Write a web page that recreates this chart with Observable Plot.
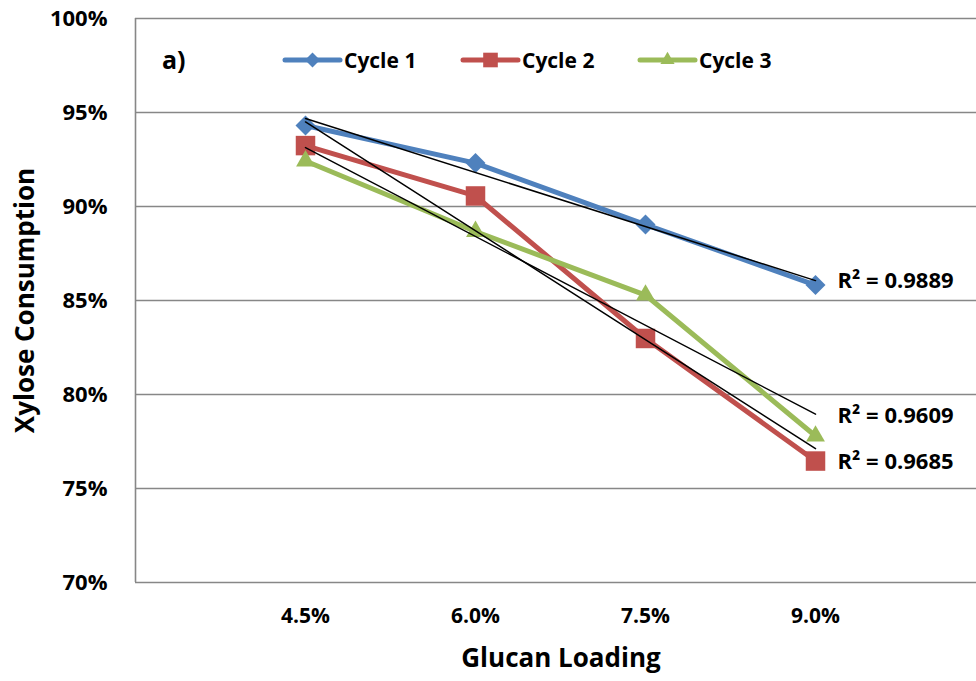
<!DOCTYPE html>
<html>
<head>
<meta charset="utf-8">
<script src="https://cdn.jsdelivr.net/npm/d3@7"></script>
<script src="https://cdn.jsdelivr.net/npm/@observablehq/plot@0.6"></script>
<style>
  html, body { margin: 0; padding: 0; background: #fff; }
  #wrap { position: relative; width: 976px; height: 681px; font-family: 'Open Sans', sans-serif; }
  #legend { position: absolute; left: 0; top: 0; pointer-events: none; }
</style>
</head>
<body>
<div id="wrap"></div>
<script>
// ---- data ----
const categories = ["4.5%", "6.0%", "7.5%", "9.0%"];
const seriesNames = ["Cycle 1", "Cycle 2", "Cycle 3"];
const cycle1 = [94.31, 92.31, 89.04, 85.82];
const cycle2 = [93.24, 90.56, 82.98, 76.46];
const cycle3 = [92.42, 88.67, 85.29, 77.79];
const rSquared = ["R² = 0.9889", "R² = 0.9685", "R² = 0.9609"];
const yTicks = [70, 75, 80, 85, 90, 95, 100];
const panelLabel = "a)";
const xTitle = "Glucan Loading";
const yTitle = "Xylose Consumption";

// ---- styling ----
const colors = {"Cycle 1": "#4F81BD", "Cycle 2": "#C0504D", "Cycle 3": "#9BBB59"};
const symbols = {"Cycle 1": "diamond2", "Cycle 2": "square", "Cycle 3": "triangle"};
const radii = {"Cycle 1": 9, "Cycle 2": 11, "Cycle 3": 7};
const labelDy = {"Cycle 1": -4, "Cycle 2": 1, "Cycle 3": -20};
const font = "'Open Sans', sans-serif";
const grid = "#878787";

const values = [cycle1, cycle2, cycle3];
const rows = [];
seriesNames.forEach((s, si) => values[si].forEach((v, i) => rows.push({series: s, x: i + 1, y: v})));
const lastRows = seriesNames.map((s, si) => ({series: s, x: categories.length, y: values[si][categories.length - 1], label: rSquared[si]}));

const marks = [
  Plot.ruleY(yTicks.slice(1), {stroke: grid, strokeWidth: 1.4}),
  Plot.ruleY([70], {stroke: grid, strokeWidth: 1.6}),
  Plot.ruleX([0], {stroke: grid, strokeWidth: 1.6}),
  Plot.axisY({ticks: yTicks, tickFormat: d => d + "%", tickSize: 0, tickPadding: 28, fontSize: 22, fontWeight: "bold", label: null}),
  Plot.axisX({ticks: [1, 2, 3, 4], tickFormat: i => categories[i - 1], tickSize: 0, tickPadding: 26, fontSize: 21, fontWeight: "bold", label: null})
];
for (const s of seriesNames) {
  const d = rows.filter(r => r.series === s);
  marks.push(Plot.line(d, {x: "x", y: "y", stroke: colors[s], strokeWidth: 5, strokeLinejoin: "round", strokeLinecap: "round"}));
  marks.push(Plot.dot(d, {x: "x", y: "y", symbol: symbols[s], r: radii[s], fill: colors[s], stroke: "none"}));
}
marks.push(Plot.linearRegressionY(rows, {x: "x", y: "y", z: "series", ci: 0, stroke: "black", strokeWidth: 1.5}));
for (const r of lastRows) {
  marks.push(Plot.text([r], {x: "x", y: "y", text: "label", dx: 22, dy: labelDy[r.series], textAnchor: "start", fontSize: 22, fontWeight: "bold", fill: "black"}));
}
marks.push(Plot.text([yTitle], {frameAnchor: "left", textAnchor: "middle", lineAnchor: "middle", dx: -110, rotate: -90, fontSize: 26, fontWeight: "bold", fill: "black"}));
marks.push(Plot.text([xTitle], {frameAnchor: "bottom", dx: 5, dy: 84, fontSize: 26, fontWeight: "bold", fill: "black"}));

const chart = Plot.plot({
  width: 976,
  height: 681,
  marginLeft: 135,
  marginTop: 18,
  marginBottom: 99,
  marginRight: 0,
  style: {fontFamily: font, color: "black", background: "white", overflow: "visible"},
  x: {type: "linear", domain: [0, 4.947]},
  y: {domain: [70, 100]},
  marks
});
document.getElementById("wrap").appendChild(chart);

// ---- legend overlay ----
const leg = d3.select("#wrap").append("svg").attr("id", "legend").attr("width", 976).attr("height", 100);
leg.append("text").attr("x", 162).attr("y", 69).text(panelLabel)
  .attr("font-family", font).attr("font-weight", "bold").attr("font-size", 25);
const legX = [285, 463, 640];
const symMap = {"diamond2": d3.symbolDiamond2, "square": d3.symbolSquare, "triangle": d3.symbolTriangle};
seriesNames.forEach((s, i) => {
  const g = leg.append("g").attr("transform", `translate(${legX[i]},60)`);
  g.append("line").attr("x1", 0).attr("x2", 55).attr("y1", 0).attr("y2", 0)
    .attr("stroke", colors[s]).attr("stroke-width", 5).attr("stroke-linecap", "round");
  g.append("path").attr("transform", "translate(27.5,0)")
    .attr("d", d3.symbol(symMap[symbols[s]], Math.PI * (radii[s] * 0.75) ** 2)())
    .attr("fill", colors[s]);
  g.append("text").attr("x", 59).attr("y", 8).text(s)
    .attr("font-family", font).attr("font-weight", "bold").attr("font-size", 21);
});
</script>
</body>
</html>
